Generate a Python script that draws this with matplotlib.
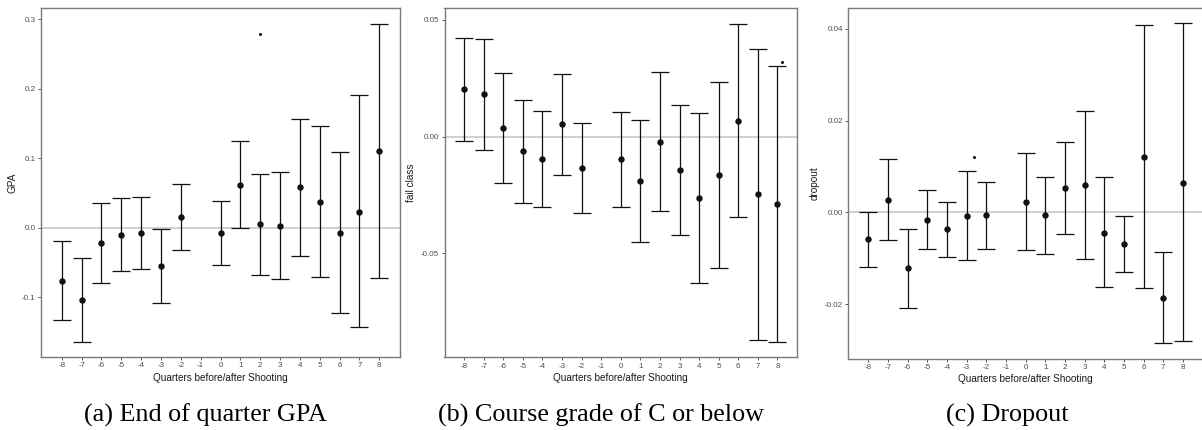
import matplotlib.pyplot as plt

plt.rcParams['font.family'] = ['Liberation Sans', 'DejaVu Sans']

quarters = [-8, -7, -6, -5, -4, -3, -2, 0, 1, 2, 3, 4, 5, 6, 7, 8]
tick_quarters = list(range(-8, 9))

# (a) End of quarter GPA
gpa_est = [-0.076, -0.104, -0.022, -0.011, -0.008, -0.055, 0.016, -0.007,
           0.061, 0.005, 0.003, 0.058, 0.037, -0.007, 0.023, 0.111]
gpa_lo = [-0.133, -0.164, -0.079, -0.063, -0.060, -0.108, -0.032, -0.053,
          -0.001, -0.068, -0.074, -0.041, -0.071, -0.123, -0.143, -0.072]
gpa_hi = [-0.019, -0.044, 0.035, 0.042, 0.044, -0.002, 0.063, 0.039,
          0.124, 0.077, 0.080, 0.157, 0.146, 0.109, 0.191, 0.293]

# (b) Course grade of C or below
fail_est = [0.0203, 0.0182, 0.0039, -0.0061, -0.0097, 0.0053, -0.0135, -0.0097,
            -0.0190, -0.0023, -0.0144, -0.0261, -0.0165, 0.0067, -0.0247, -0.0287]
fail_lo = [-0.0018, -0.0058, -0.0197, -0.0283, -0.0303, -0.0164, -0.0328, -0.0300,
           -0.0451, -0.0318, -0.0421, -0.0626, -0.0561, -0.0343, -0.0871, -0.0880]
fail_hi = [0.0424, 0.0420, 0.0272, 0.0157, 0.0110, 0.0267, 0.0060, 0.0106,
           0.0070, 0.0276, 0.0135, 0.0103, 0.0236, 0.0482, 0.0374, 0.0302]

# (c) Dropout
drop_est = [-0.0058, 0.0026, -0.0122, -0.0016, -0.0036, -0.0007, -0.0005, 0.0023,
            -0.0005, 0.0052, 0.0059, -0.0044, -0.0068, 0.0121, -0.0186, 0.0065]
drop_lo = [-0.0119, -0.0060, -0.0208, -0.0080, -0.0098, -0.0104, -0.0079, -0.0082,
           -0.0090, -0.0048, -0.0102, -0.0162, -0.0129, -0.0164, -0.0285, -0.0281]
drop_hi = [0.0000, 0.0116, -0.0036, 0.0048, 0.0023, 0.0090, 0.0066, 0.0129,
           0.0077, 0.0153, 0.0220, 0.0077, -0.0009, 0.0408, -0.0087, 0.0412]

# stray specks visible in the original figure
specks = [(2.0, 0.279), (8.25, 0.032), (-2.64, 0.012)]

panels = [
    dict(est=gpa_est, lo=gpa_lo, hi=gpa_hi, ylabel='GPA',
         yticks=[-0.1, 0.0, 0.1, 0.2, 0.3], fmt='{:.1f}',
         ylim=(-0.186, 0.316), xlim=(-9.05, 9.05),
         box=(41, 400, 8, 357), caption='(a) End of quarter GPA', cx=205),
    dict(est=fail_est, lo=fail_lo, hi=fail_hi, ylabel='fail class',
         yticks=[-0.05, 0.0, 0.05], fmt='{:.2f}',
         ylim=(-0.0945, 0.055), xlim=(-9.0, 9.0),
         box=(444.5, 797, 8.3, 357.3), caption='(b) Course grade of C or below', cx=601),
    dict(est=drop_est, lo=drop_lo, hi=drop_hi, ylabel='dropout',
         yticks=[-0.02, 0.0, 0.02, 0.04], fmt='{:.2f}',
         ylim=(-0.0319, 0.0446), xlim=(-9.02, 9.02),
         box=(848.3, 1203, 7.7, 358.7), caption='(c) Dropout', cx=1007),
]

W, H = 1202, 430
fig = plt.figure(figsize=(W / 100, H / 100), dpi=100)

for i, p in enumerate(panels):
    l, r, t, b = p['box']
    ax = fig.add_axes([l / W, 1 - b / H, (r - l) / W, (b - t) / H])
    ax.axhline(0, color='#c4c4c4', lw=1.1, zorder=1)
    err = [[e - lo for e, lo in zip(p['est'], p['lo'])],
           [hi - e for e, hi in zip(p['est'], p['hi'])]]
    ax.errorbar(quarters, p['est'], yerr=err, fmt='o', color='#111111',
                ms=3.6, elinewidth=0.9, capsize=6.2, capthick=0.9, zorder=3)
    sx, sy = specks[i]
    ax.plot([sx], [sy], 'o', color='#111111', ms=1.2, zorder=3)

    ax.set_xlim(*p['xlim'])
    ax.set_ylim(*p['ylim'])
    ax.set_xticks(tick_quarters)
    ax.set_xticklabels([str(q) for q in tick_quarters])
    ax.set_yticks(p['yticks'])
    ax.set_yticklabels([p['fmt'].format(v) for v in p['yticks']])
    ax.tick_params(labelsize=5.8, labelcolor='#4d4d4d', color='#555555',
                   length=2.2, width=0.7, pad=1.6)
    for s in ax.spines.values():
        s.set_color('#7a7a7a')
        s.set_linewidth(1.0)
    ax.set_xlabel('Quarters before/after Shooting', fontsize=7.2,
                  color='#1a1a1a', labelpad=2.5)
    ax.set_ylabel(p['ylabel'], fontsize=7.2, color='#1a1a1a', labelpad=3.5)

    fig.text(p['cx'] / W, 1 - 422 / H, p['caption'], ha='center',
             va='baseline', fontsize=18.8, family='Liberation Serif')

fig.savefig('out.png', dpi=100)
